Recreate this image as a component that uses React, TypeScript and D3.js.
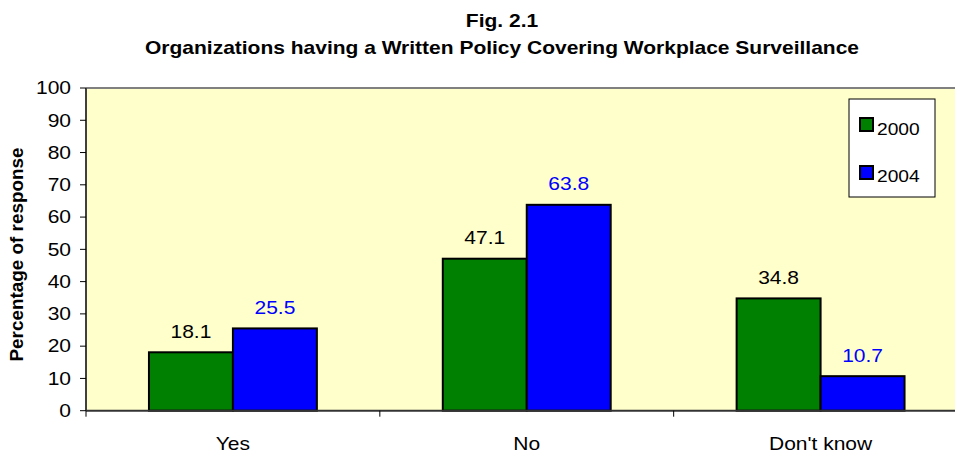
import React from "react";
import * as d3 from "d3";

const categories = ["Yes", "No", "Don't know"];
const seriesNames = ["2000", "2004"];
const values2000 = [18.1, 47.1, 34.8];
const values2004 = [25.5, 63.8, 10.7];
const yTicks = [0, 10, 20, 30, 40, 50, 60, 70, 80, 90, 100];
const titleLines = ["Fig. 2.1", "Organizations having a Written Policy Covering Workplace Surveillance"];
const yTitle = "Percentage of response";

const seriesColors = ["#008000", "#0000FF"];
const labelColors = ["#000000", "#0000FF"];

const SX = 1.2;

function Txt(props: { x: number; y: number; size: number; anchor?: string; bold?: boolean; fill?: string; sx?: number; children: any }) {
  const { x, y, size, anchor = "start", bold = false, fill = "#000", sx = SX, children } = props;
  return (
    <text
      transform={`translate(${x},${y}) scale(${sx},1)`}
      textAnchor={anchor as any}
      fontSize={size}
      fontWeight={bold ? "bold" : "normal"}
      fill={fill}
    >
      {children}
    </text>
  );
}

export default function App() {
  const W = 955, H = 458;
  const left = 86, right = 967.5, top = 88, bottom = 410.7;
  const x0 = d3.scaleBand<string>().domain(categories).range([left, right]).padding(0);
  const x1 = d3.scaleBand<string>().domain(seriesNames).range([0, x0.bandwidth()]).paddingInner(0).paddingOuter(0.75);
  const y = d3.scaleLinear().domain([0, 100]).range([bottom, top]);
  const data = [values2000, values2004];
  const font = "Arial, 'Liberation Sans', sans-serif";

  return (
    <svg width={W} height={H} style={{ position: "absolute", left: 0, top: 0, fontFamily: font }}>
      <rect x={0} y={0} width={W} height={H} fill="#fff" />
      {titleLines.map((t, i) => (
        <Txt key={i} x={502} y={i === 0 ? 27 : 54} size={17.5} bold anchor="middle">{t}</Txt>
      ))}
      <rect x={left} y={top} width={right - left} height={bottom - top} fill="#FFFFCC" />
      <line x1={left} x2={right} y1={top} y2={top} stroke="#808080" strokeWidth={2} />
      <line x1={left} x2={left} y1={top} y2={bottom} stroke="#404040" strokeWidth={2} />
      {yTicks.map((t) => (
        <g key={t}>
          <line x1={left - 6} x2={left} y1={y(t)} y2={y(t)} stroke="#000" strokeWidth={1} />
          <Txt x={71} y={y(t) + 6.3} size={17.5} anchor="end">{t}</Txt>
        </g>
      ))}
      {categories.map((c, ci) =>
        data.map((vals, si) => {
          const bx = (x0(c) as number) + (x1(seriesNames[si]) as number);
          const bw = x1.bandwidth();
          return (
            <g key={c + si}>
              <rect x={bx} y={y(vals[ci])} width={bw} height={bottom - y(vals[ci])} fill={seriesColors[si]} stroke="#000" strokeWidth={2} />
              <Txt x={bx + bw / 2} y={y(vals[ci]) - 14.5} size={17.5} anchor="middle" fill={labelColors[si]}>{vals[ci]}</Txt>
            </g>
          );
        })
      )}
      <line x1={left} x2={right} y1={bottom} y2={bottom} stroke="#333" strokeWidth={2} />
      {categories.map((c, i) => (
        <line key={"t" + i} x1={x0(c) as number} x2={x0(c) as number} y1={bottom} y2={bottom + 6} stroke="#000" strokeWidth={1} />
      ))}
      {categories.map((c) => (
        <Txt key={"c" + c} x={(x0(c) as number) + x0.bandwidth() / 2} y={450} size={17.5} anchor="middle">{c}</Txt>
      ))}
      <text transform={`translate(23,254.5) rotate(-90) scale(1.08,1)`} textAnchor="middle" fontSize={17.5} fontWeight="bold" fill="#000">{yTitle}</text>
      <rect x={849} y={99} width={86} height={98} fill="#fff" stroke="#000" strokeWidth={1} />
      {seriesNames.map((s, i) => (
        <g key={"l" + s}>
          <rect x={860} y={i === 0 ? 118 : 166} width={13} height={13} fill={seriesColors[i]} stroke="#000" strokeWidth={2} />
          <Txt x={877} y={i === 0 ? 135 : 182} size={16}>{s}</Txt>
        </g>
      ))}
    </svg>
  );
}
